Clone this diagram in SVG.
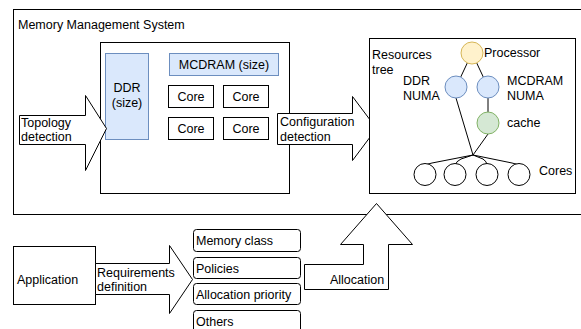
<svg xmlns="http://www.w3.org/2000/svg" width="581" height="329" viewBox="0 0 581 329">
<style>
.b{fill:#fff;stroke:#000;stroke-width:1}
.blue{fill:#dae8fc;stroke:#6c8ebf;stroke-width:1}
.t{font-family:"Liberation Sans",Arial,sans-serif;font-size:12.5px;fill:#000}
.m{text-anchor:middle}
.e{stroke:#000;stroke-width:1;fill:none}
</style>
<rect width="581" height="329" fill="#fff"/>
<g id="mms">
<rect class="b" x="13.5" y="9.5" width="568" height="205"/>
<text class="t" x="18" y="29">Memory Management System</text>
</g>
<g id="hardware">
<rect class="b" x="100.5" y="42.5" width="189" height="151"/>
</g>
<g id="ddr">
<rect class="blue" x="105.5" y="53.5" width="43" height="86"/>
<text class="t m" x="127" y="92">DDR</text>
<text class="t m" x="127" y="107">(size)</text>
</g>
<g id="mcdram">
<rect class="blue" x="169.5" y="53.5" width="109" height="22"/>
<text class="t m" x="224" y="69">MCDRAM (size)</text>
</g>
<g id="core1"><rect class="b" x="168.5" y="85.5" width="45" height="22"/><text class="t m" x="191" y="101">Core</text></g>
<g id="core2"><rect class="b" x="223.5" y="85.5" width="45" height="22"/><text class="t m" x="246" y="101">Core</text></g>
<g id="core3"><rect class="b" x="168.5" y="117.5" width="45" height="22"/><text class="t m" x="191" y="133">Core</text></g>
<g id="core4"><rect class="b" x="223.5" y="117.5" width="45" height="22"/><text class="t m" x="246" y="133">Core</text></g>
<g id="topology">
<polygon class="b" points="19.5,115.5 85.5,115.5 85.5,95.5 106.5,128.5 85.5,170.5 85.5,144.5 19.5,144.5"/>
<text class="t" x="21" y="127">Topology</text>
<text class="t" x="21" y="141">detection</text>
</g>
<g id="configuration">
<polygon class="b" points="277.5,113.5 352.5,113.5 352.5,96.5 376.5,128.5 352.5,160.5 352.5,144.5 277.5,144.5"/>
<text class="t" x="280" y="126">Configuration</text>
<text class="t" x="280" y="141">detection</text>
</g>
<g id="resources">
<rect class="b" x="369.5" y="38.5" width="206" height="155"/>
<text class="t" x="372" y="59">Resources</text>
<text class="t" x="372" y="74">tree</text>
</g>
<g id="connectors">
<line class="e" x1="472" y1="53" x2="456" y2="87"/>
<line class="e" x1="472" y1="53" x2="488" y2="87"/>
<line class="e" x1="488" y1="87" x2="488" y2="123"/>
<line class="e" x1="456" y1="98" x2="473" y2="155"/>
<line class="e" x1="488" y1="134" x2="473" y2="155"/>
<path class="e" d="M473,155 L432,163 Q426,164 425,166"/>
<path class="e" d="M473,155 L461,159 Q456,161 455,166"/>
<path class="e" d="M473,155 L483,159 Q487,161 487,166"/>
<path class="e" d="M473,155 L512,163 Q518,164 519,166"/>
</g>
<g id="processor"><circle cx="472" cy="53" r="11" fill="#fff2cc" stroke="#d6b656"/><text class="t" x="484" y="57">Processor</text></g>
<g id="ddrnuma"><circle class="blue" cx="456" cy="87" r="11"/><text class="t" x="403" y="85">DDR</text><text class="t" x="403" y="100">NUMA</text></g>
<g id="mcdramnuma"><circle class="blue" cx="488" cy="87" r="11"/><text class="t" x="507" y="85">MCDRAM</text><text class="t" x="507" y="100">NUMA</text></g>
<g id="cache"><circle cx="488" cy="123" r="11" fill="#d5e8d4" stroke="#82b366"/><text class="t" x="507" y="127">cache</text></g>
<g id="cores">
<circle class="b" cx="425" cy="174.5" r="11"/>
<circle class="b" cx="455" cy="174.5" r="11"/>
<circle class="b" cx="487" cy="174.5" r="11"/>
<circle class="b" cx="519" cy="174.5" r="11"/>
<text class="t" x="539" y="175">Cores</text>
</g>
<g id="application">
<rect class="b" x="13.5" y="246.5" width="82" height="58"/>
<text class="t" x="17" y="284">Application</text>
</g>
<g id="requirements">
<polygon class="b" points="95.5,263.5 169.5,263.5 169.5,245.5 192.5,279.5 169.5,313.5 169.5,294.5 95.5,294.5"/>
<text class="t" x="97" y="277">Requirements</text>
<text class="t" x="97" y="291">definition</text>
</g>
<g id="memclass"><rect class="b" x="193.5" y="229.5" width="107" height="22" rx="3"/><text class="t" x="196" y="245">Memory class</text></g>
<g id="policies"><rect class="b" x="193.5" y="257.5" width="107" height="21" rx="3"/><text class="t" x="196" y="273">Policies</text></g>
<g id="allocprio"><rect class="b" x="193.5" y="283.5" width="107" height="21" rx="3"/><text class="t" x="196" y="299">Allocation priority</text></g>
<g id="others"><rect class="b" x="193.5" y="310.5" width="107" height="25" rx="3"/><text class="t" x="196" y="326">Others</text></g>
<g id="allocation">
<polygon class="b" points="304.5,289.5 304.5,264.5 363.5,264.5 363.5,244.5 340.5,244.5 376.5,203.5 412.5,244.5 388.5,244.5 388.5,289.5"/>
<text class="t m" x="357" y="284">Allocation</text>
</g>
</svg>
